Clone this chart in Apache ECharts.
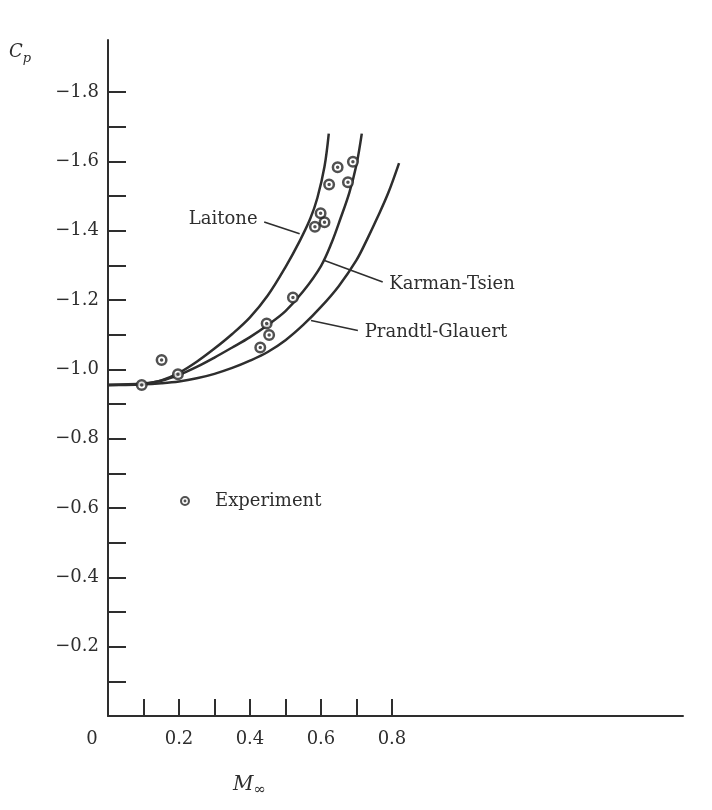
<!DOCTYPE html>
<html>
<head>
<meta charset="utf-8">
<script src="https://cdn.jsdelivr.net/npm/echarts@6/dist/echarts.min.js"></script>
<style>
  html, body { margin: 0; padding: 0; background: #fff; }
  #main { width: 712px; height: 810px; }
</style>
</head>
<body>
<div id="main"></div>
<script>
// Cp vs free-stream Mach number: three compressibility corrections and experiment

var laitoneM  = [0, 0.05, 0.1, 0.15, 0.2, 0.25, 0.3, 0.35, 0.4, 0.45, 0.5, 0.54, 0.57, 0.59, 0.61, 0.622];
var laitoneCp = [-0.955, -0.955, -0.958, -0.968, -0.99, -1.022, -1.06, -1.102, -1.15, -1.213, -1.295, -1.37, -1.435, -1.495, -1.585, -1.68];

var karmanM  = [0, 0.1, 0.15, 0.2, 0.25, 0.3, 0.35, 0.4, 0.45, 0.5, 0.55, 0.6, 0.63, 0.655, 0.68, 0.70, 0.715];
var karmanCp = [-0.955, -0.959, -0.967, -0.984, -1.007, -1.034, -1.063, -1.093, -1.128, -1.168, -1.225, -1.298, -1.365, -1.435, -1.51, -1.59, -1.68];

var prandtlM  = [0, 0.1, 0.15, 0.2, 0.25, 0.3, 0.35, 0.4, 0.45, 0.5, 0.55, 0.6, 0.65, 0.7, 0.73, 0.76, 0.79, 0.82];
var prandtlCp = [-0.955, -0.957, -0.96, -0.965, -0.974, -0.987, -1.004, -1.025, -1.05, -1.084, -1.128, -1.18, -1.24, -1.315, -1.375, -1.44, -1.51, -1.595];

var expM  = [0.095, 0.151, 0.197, 0.429, 0.447, 0.454, 0.521, 0.583, 0.599, 0.610, 0.623, 0.647, 0.676, 0.690];
var expCp = [-0.955, -1.027, -0.986, -1.063, -1.132, -1.099, -1.207, -1.411, -1.450, -1.424, -1.533, -1.583, -1.540, -1.599];

var xTicks  = [0.1, 0.2, 0.3, 0.4, 0.5, 0.6, 0.7, 0.8];
var xLabels = [0, 0.2, 0.4, 0.6, 0.8];
var yTicks  = [-0.1, -0.2, -0.3, -0.4, -0.5, -0.6, -0.7, -0.8, -0.9, -1.0, -1.1, -1.2, -1.3, -1.4, -1.5, -1.6, -1.7, -1.8];
var yLabels = [-0.2, -0.4, -0.6, -0.8, -1.0, -1.2, -1.4, -1.6, -1.8];

var curveNames = ['Laitone', 'Karman-Tsien', 'Prandtl-Glauert'];
// leader lines: from a point on the curve to where the name sits
var leaderFrom = [[0.540, -1.391], [0.610, -1.314], [0.572, -1.141]];
var leaderTo   = [[0.440, -1.425], [0.774, -1.252], [0.704, -1.112]];

var ink = '#2e2e2e';
var serif = 'DejaVu Serif';
var ringDot = 'path://M12,0A12,12,0,1,1,12,24A12,12,0,1,1,12,0Z' +
              'M12,5A7,7,0,1,0,12,19A7,7,0,1,0,12,5Z' +
              'M12,8.5A3.5,3.5,0,1,1,12,15.5A3.5,3.5,0,1,1,12,8.5Z';

function pairs(xs, ys) {
  var out = [];
  for (var i = 0; i < xs.length; i++) out.push([xs[i], ys[i]]);
  return out;
}

var curves = [pairs(laitoneM, laitoneCp), pairs(karmanM, karmanCp), pairs(prandtlM, prandtlCp)];

var series = curves.map(function (d, i) {
  return {
    name: curveNames[i],
    type: 'line',
    data: d,
    smooth: 0.35,
    showSymbol: false,
    silent: true,
    z: 2,
    lineStyle: { color: ink, width: 2.5 },
    markLine: {
      silent: true,
      symbol: ['none', 'none'],
      animation: false,
      lineStyle: { color: ink, width: 1.6, type: 'solid' },
      label: {
        show: true,
        position: 'end',
        distance: 7,
        formatter: curveNames[i],
        fontFamily: serif,
        fontSize: 18,
        color: ink
      },
      data: [[{ coord: leaderFrom[i] }, { coord: leaderTo[i] }]]
    }
  };
});

// white discs behind the experiment symbols so the curves do not show through
series.push({
  type: 'scatter',
  data: pairs(expM, expCp),
  symbol: 'circle',
  symbolSize: 10,
  silent: true,
  z: 3,
  itemStyle: { color: '#fff' }
});
series.push({
  name: 'Experiment',
  type: 'scatter',
  data: pairs(expM, expCp),
  symbol: ringDot,
  symbolSize: 12,
  z: 4,
  itemStyle: { color: '#262626' }
});

var myChart = echarts.init(document.getElementById('main'));

var option = {
  animation: false,
  backgroundColor: '#fff',
  title: [
    {
      text: '{c|C}{p|p}',
      left: 4,
      top: 35,
      textStyle: {
        rich: {
          c: { fontFamily: serif, fontStyle: 'italic', fontWeight: 'normal', fontSize: 18, color: ink },
          p: { fontFamily: serif, fontStyle: 'italic', fontWeight: 'normal', fontSize: 13, color: ink, padding: [12, 0, 0, 0] }
        }
      }
    },
    {
      text: '{m|M}{s|\u221E}',
      left: 228,
      top: 766,
      textStyle: {
        rich: {
          m: { fontFamily: serif, fontStyle: 'italic', fontWeight: 'normal', fontSize: 20, color: ink },
          s: { fontFamily: serif, fontWeight: 'normal', fontSize: 15, color: ink, padding: [12, 0, 0, 0] }
        }
      }
    }
  ],
  legend: {
    data: [{ name: 'Experiment', icon: ringDot }],
    left: 175,
    top: 487,
    itemWidth: 10,
    itemHeight: 10,
    selectedMode: false,
    textStyle: { fontFamily: serif, fontSize: 18, color: ink, padding: [0, 0, 0, 20] }
  },
  grid: { left: 108, right: 29, top: 40, bottom: 94 },
  xAxis: {
    type: 'value',
    min: 0,
    max: 1.62,
    splitLine: { show: false },
    axisLine: { lineStyle: { color: ink, width: 2 } },
    axisTick: { inside: true, length: 17, lineStyle: { color: ink, width: 2 }, customValues: xTicks },
    axisLabel: {
      customValues: xLabels,
      margin: 14,
      fontFamily: serif,
      fontSize: 18,
      color: ink,
      formatter: function (v) { return v === 0 ? '{z|0}' : v.toFixed(1); },
      rich: { z: { fontFamily: serif, fontSize: 18, color: ink, padding: [0, 32, 0, 0] } }
    }
  },
  yAxis: {
    type: 'value',
    inverse: true,
    min: -1.95,
    max: 0,
    splitLine: { show: false },
    axisLine: { lineStyle: { color: ink, width: 2 } },
    axisTick: { inside: true, length: 18, lineStyle: { color: ink, width: 2 }, customValues: yTicks },
    axisLabel: {
      customValues: yLabels,
      margin: 9,
      fontFamily: serif,
      fontSize: 18,
      color: ink,
      formatter: function (v) { return '\u2212' + Math.abs(v).toFixed(1); }
    }
  },
  series: series
};

myChart.setOption(option);
</script>
</body>
</html>
